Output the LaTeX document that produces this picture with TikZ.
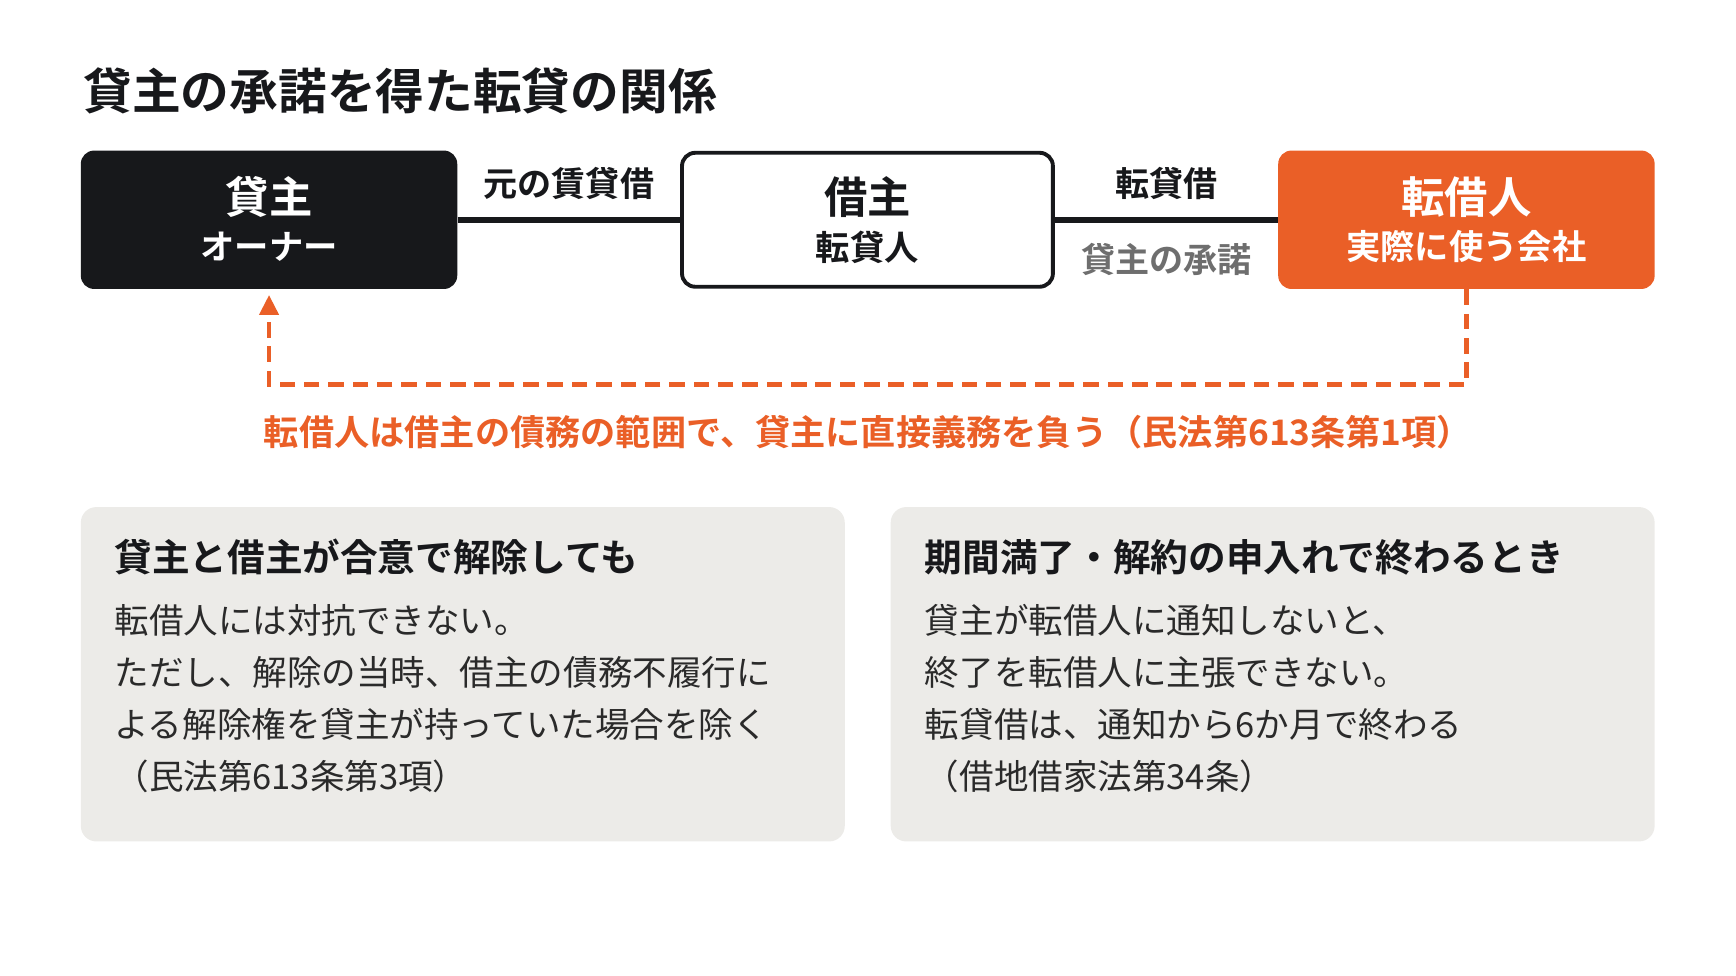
\documentclass[tikz,border=0pt]{standalone}
\usepackage{fontspec}
\setmainfont{Noto Sans CJK JP}[BoldFont={Noto Sans CJK JP Bold}]
\usetikzlibrary{arrows.meta}
\definecolor{inkdark}{RGB}{23,24,27}
\definecolor{accent}{RGB}{234,95,39}
\definecolor{panelgray}{RGB}{236,235,232}
\definecolor{notegray}{RGB}{110,110,110}
\definecolor{bodyink}{RGB}{42,42,42}

\begin{document}
\begin{tikzpicture}[x=0.5pt, y=-0.5pt,
  party/.style = {shape=rectangle, rounded corners=6pt, minimum width=170pt,
    minimum height=62.5pt, inner sep=0pt},
  name text/.style = {inner sep=0pt, font=\fontsize{19.6}{23}\selectfont\bfseries},
  role text/.style = {inner sep=0pt, font=\fontsize{15.5}{18}\selectfont\bfseries},
  contract/.style = {line width=2.5pt, draw=inkdark},
  edge label/.style = {inner sep=0pt, font=\fontsize{15.4}{18}\selectfont\bfseries},
  duty/.style = {draw=accent, line width=2pt, dash pattern=on 7pt off 4pt,
    -{Triangle[width=8.5pt,length=9pt]}, shorten >=2.5pt},
  panel/.style = {shape=rectangle, rounded corners=7pt, fill=panelgray,
    minimum width=345pt, minimum height=151pt, inner sep=0pt},
  panel head/.style = {anchor=west, inner sep=0pt,
    font=\fontsize{17}{20}\selectfont\bfseries, text=inkdark},
  panel body/.style = {anchor=west, inner sep=0pt,
    font=\fontsize{15.6}{19}\selectfont, text=bodyink}
  ]
  \useasboundingbox (0,0) rectangle (1568,881.5);

  \node[anchor=west, inner sep=0pt, font=\fontsize{22}{26}\selectfont\bfseries,
    text=inkdark] (title) at (75,82) {貸主の承諾を得た転貸の関係};

  % parties
  \node[party, fill=inkdark] (kashinushi) at (243,198.5) {};
  \node[party, fill=white, draw=inkdark, line width=1.75pt,
    minimum width=167.5pt, minimum height=60.5pt] (karinushi) at (783.5,198.5) {};
  \node[party, fill=accent] (tenshakunin) at (1324.5,198.5) {};

  \node[name text, text=white] (kashinushi-name) at ([yshift=10.25pt]kashinushi.center) {貸主};
  \node[role text, text=white] (kashinushi-role) at ([yshift=-12.25pt]kashinushi.center) {オーナー};
  \node[name text, text=inkdark] (karinushi-name) at ([yshift=10.25pt]karinushi.center) {借主};
  \node[role text, text=inkdark] (karinushi-role) at ([yshift=-12.25pt]karinushi.center) {転貸人};
  \node[name text, text=white] (tenshakunin-name) at ([yshift=10.25pt]tenshakunin.center) {転借人};
  \node[role text, text=white] (tenshakunin-role) at ([yshift=-12.25pt]tenshakunin.center) {実際に使う会社};

  % contracts
  \draw[contract] (kashinushi) -- node[edge label, yshift=16.25pt, text=inkdark] (moto) {元の賃貸借} (karinushi);
  \draw[contract] (karinushi) -- node[edge label, yshift=16.25pt, text=inkdark] (tentai) {転貸借}
    node[edge label, yshift=-17.75pt, text=notegray] (shodaku) {貸主の承諾} (tenshakunin);

  % direct duty
  \draw[duty] (tenshakunin.south) -- ++(0,86) -| (kashinushi.south);
  \node[inner sep=0pt, font=\fontsize{15.9}{18}\selectfont\bfseries, text=accent]
    (article) at (784,390) {転借人は借主の債務の範囲で、貸主に直接義務を負う（民法第613条第1項）};

  % notes
  \node[panel] (left-panel) at (418,609) {};
  \node[panel] (right-panel) at (1149.5,609) {};
  \node[panel head] (left-head) at (103,503) {貸主と借主が合意で解除しても};
  \node[panel head] (right-head) at (835,503) {期間満了・解約の申入れで終わるとき};
  \foreach \txt [count=\i] in {転借人には対抗できない。, ただし、解除の当時、借主の債務不履行に,
      よる解除権を貸主が持っていた場合を除く, （民法第613条第3項）}
    \node[panel body] (left-line-\i) at (103,513+47*\i) {\txt};
  \foreach \txt [count=\i] in {貸主が転借人に通知しないと、, 終了を転借人に主張できない。,
      転貸借は、通知から6か月で終わる, （借地借家法第34条）}
    \node[panel body] (right-line-\i) at (835,513+47*\i) {\txt};
\end{tikzpicture}
\end{document}
